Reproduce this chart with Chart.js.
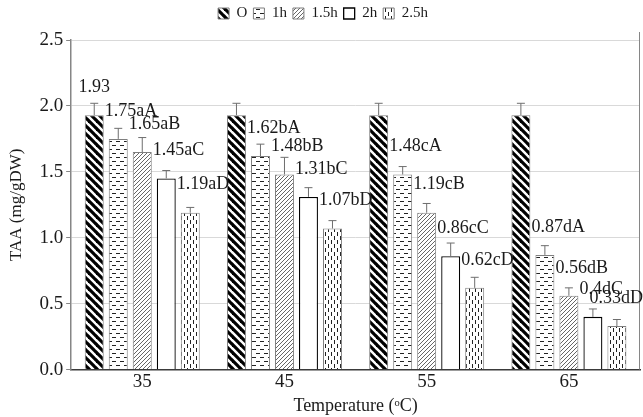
<!DOCTYPE html>
<html>
<head>
<meta charset="utf-8">
<script src="https://cdn.jsdelivr.net/npm/chart.js@4.4.1/dist/chart.umd.min.js"></script>
<style>
  body { margin: 0; background: #fff; }
</style>
</head>
<body>
<canvas id="grafico" width="643" height="417"></canvas>
<script>
// dados
var temperaturas = ['35', '45', '55', '65'];
var nomesSeries = ['O', '1h', '1.5h', '2h', '2.5h'];

var valoresO   = [1.93, 1.93, 1.93, 1.93];
var valores1h  = [1.75, 1.62, 1.48, 0.87];
var valores15h = [1.65, 1.48, 1.19, 0.56];
var valores2h  = [1.45, 1.31, 0.86, 0.4];
var valores25h = [1.19, 1.07, 0.62, 0.33];

var erroO   = [0.09, 0.09, 0.09, 0.09];
var erro1h  = [0.08, 0.09, 0.06, 0.07];
var erro15h = [0.11, 0.13, 0.07, 0.06];
var erro2h  = [0.06, 0.07, 0.10, 0.06];
var erro25h = [0.04, 0.06, 0.08, 0.05];

// letras de significância (null = sem rótulo)
var letrasO   = ['', null, null, null];
var letras1h  = ['aA', 'bA', 'cA', 'dA'];
var letras15h = ['aB', 'bB', 'cB', 'dB'];
var letras2h  = ['aC', 'bC', 'cC', 'dC'];
var letras25h = ['aD', 'bD', 'cD', 'dD'];

var yTicks = [0, 0.5, 1.0, 1.5, 2.0, 2.5];

var fonte = "'Liberation Serif', 'Times New Roman', serif";
var corTexto = '#1a1a1a';

var ctx = document.getElementById('grafico').getContext('2d');

// padrões de preenchimento
function criarPadrao(w, h, desenho) {
    var c = document.createElement('canvas');
    c.width = w;
    c.height = h;
    var g = c.getContext('2d');
    g.fillStyle = '#fff';
    g.fillRect(0, 0, w, h);
    desenho(g, w, h);
    return ctx.createPattern(c, 'repeat');
}

var padraoO = criarPadrao(8, 8, function (g, s) {
    g.strokeStyle = '#000';
    g.lineWidth = 3.2;
    [-s, 0, s].forEach(function (o) {
        g.beginPath();
        g.moveTo(o - 1, -1);
        g.lineTo(o + s + 1, s + 1);
        g.stroke();
    });
});

var padrao1h = criarPadrao(8, 8, function (g) {
    g.strokeStyle = '#222';
    g.lineWidth = 1;
    g.beginPath();
    g.moveTo(0, 1.5); g.lineTo(4, 1.5);
    g.moveTo(4, 5.5); g.lineTo(8, 5.5);
    g.stroke();
});

var padrao15h = criarPadrao(4, 4, function (g, s) {
    g.strokeStyle = '#555';
    g.lineWidth = 0.9;
    [-s, 0, s].forEach(function (o) {
        g.beginPath();
        g.moveTo(o - 1, s + 1);
        g.lineTo(o + s + 1, -1);
        g.stroke();
    });
});

var padrao25h = criarPadrao(6, 8, function (g) {
    g.strokeStyle = '#222';
    g.lineWidth = 1;
    g.beginPath();
    g.moveTo(1.5, 0); g.lineTo(1.5, 4);
    g.moveTo(4.5, 4); g.lineTo(4.5, 8);
    g.stroke();
});

var valores = [valoresO, valores1h, valores15h, valores2h, valores25h];
var erros = [erroO, erro1h, erro15h, erro2h, erro25h];
var letras = [letrasO, letras1h, letras15h, letras2h, letras25h];
var padroes = [padraoO, padrao1h, padrao15h, '#ffffff', padrao25h];
var bordas = ['#7f7f7f', '#7f7f7f', '#7f7f7f', '#000000', '#7f7f7f'];

var datasets = nomesSeries.map(function (nome, i) {
    return {
        label: nome,
        data: valores[i],
        erros: erros[i],
        letras: letras[i],
        backgroundColor: padroes[i],
        borderColor: bordas[i],
        borderWidth: i === 3 ? 1.3 : 1
    };
});

// espaço extra abaixo da legenda
var pluginLegendaAltura = {
    id: 'legendaAltura',
    beforeInit: function (chart) {
        var fitOriginal = chart.legend.fit;
        chart.legend.fit = function () {
            fitOriginal.bind(chart.legend)();
            this.height += 9;
        };
    }
};

// barras de erro (só para cima)
var pluginErros = {
    id: 'barrasErro',
    afterDatasetsDraw: function (chart) {
        var c = chart.ctx;
        var y = chart.scales.y;
        c.save();
        c.strokeStyle = '#6e6e6e';
        c.lineWidth = 1;
        chart.data.datasets.forEach(function (ds, i) {
            var meta = chart.getDatasetMeta(i);
            meta.data.forEach(function (bar, j) {
                var topo = y.getPixelForValue(ds.data[j]);
                var fim = y.getPixelForValue(ds.data[j] + ds.erros[j]);
                c.beginPath();
                c.moveTo(bar.x, topo);
                c.lineTo(bar.x, fim);
                c.moveTo(bar.x - 4, fim);
                c.lineTo(bar.x + 4, fim);
                c.stroke();
            });
        });
        c.restore();
    }
};

// rótulos: valor + letras
var pluginRotulos = {
    id: 'rotulos',
    afterDraw: function (chart) {
        var c = chart.ctx;
        var y = chart.scales.y;
        c.save();
        c.font = '18px ' + fonte;
        c.fillStyle = corTexto;
        c.textAlign = 'left';
        c.textBaseline = 'middle';
        chart.data.datasets.forEach(function (ds, i) {
            var meta = chart.getDatasetMeta(i);
            meta.data.forEach(function (bar, j) {
                var letra = ds.letras[j];
                if (letra === null) return;
                var texto = String(ds.data[j]) + letra;
                var largura = c.measureText(texto).width;
                var x = bar.x - bar.width / 2 - 4;
                if (i === 0) x = bar.x - largura / 2;
                x = Math.min(x, chart.width - largura);
                c.fillText(texto, x, y.getPixelForValue(ds.data[j]) - 28);
            });
        });
        c.restore();
    }
};

var pluginBordaDireita = {
    id: 'bordaDireita',
    beforeDatasetsDraw: function (chart) {
        var a = chart.chartArea;
        var c = chart.ctx;
        c.save();
        c.strokeStyle = '#868686';
        c.lineWidth = 1;
        c.beginPath();
        c.moveTo(a.right - 0.5, a.top - 8);
        c.lineTo(a.right - 0.5, a.bottom);
        c.stroke();
        c.restore();
    }
};

var myChart = new Chart(ctx, {
    type: 'bar',
    data: {
        labels: temperaturas,
        datasets: datasets
    },
    plugins: [pluginLegendaAltura, pluginBordaDireita, pluginErros, pluginRotulos],
    options: {
        responsive: false,
        animation: false,
        categoryPercentage: 0.844,
        barPercentage: 0.79,
        layout: { padding: { left: 6, right: 3, top: 0, bottom: 0 } },
        plugins: {
            tooltip: { enabled: false },
            legend: {
                position: 'top',
                labels: {
                    font: { family: fonte, size: 15 },
                    color: corTexto,
                    boxWidth: 11,
                    boxHeight: 11,
                    padding: 6
                }
            }
        },
        scales: {
            x: {
                grid: { display: false, drawTicks: false },
                border: { color: '#3a3a3a', width: 1.5 },
                ticks: {
                    font: { family: fonte, size: 19 },
                    color: corTexto,
                    padding: 1
                },
                title: {
                    display: true,
                    text: 'Temperature (ᵒC)',
                    font: { family: fonte, size: 18 },
                    color: corTexto,
                    padding: { top: 1, bottom: 0 }
                }
            },
            y: {
                min: 0,
                max: 2.5,
                afterBuildTicks: function (axis) {
                    axis.ticks = yTicks.map(function (v) { return { value: v }; });
                },
                grid: {
                    color: '#d9d9d9',
                    tickColor: '#868686',
                    tickLength: 5
                },
                border: { color: '#868686', width: 1.5 },
                ticks: {
                    font: { family: fonte, size: 19 },
                    color: corTexto,
                    padding: 3,
                    callback: function (v) { return Number(v).toFixed(1); }
                },
                title: {
                    display: true,
                    text: 'TAA (mg/gDW)',
                    font: { family: fonte, size: 17 },
                    color: corTexto,
                    padding: { top: 0, bottom: 10 }
                }
            }
        }
    }
});
</script>
</body>
</html>
